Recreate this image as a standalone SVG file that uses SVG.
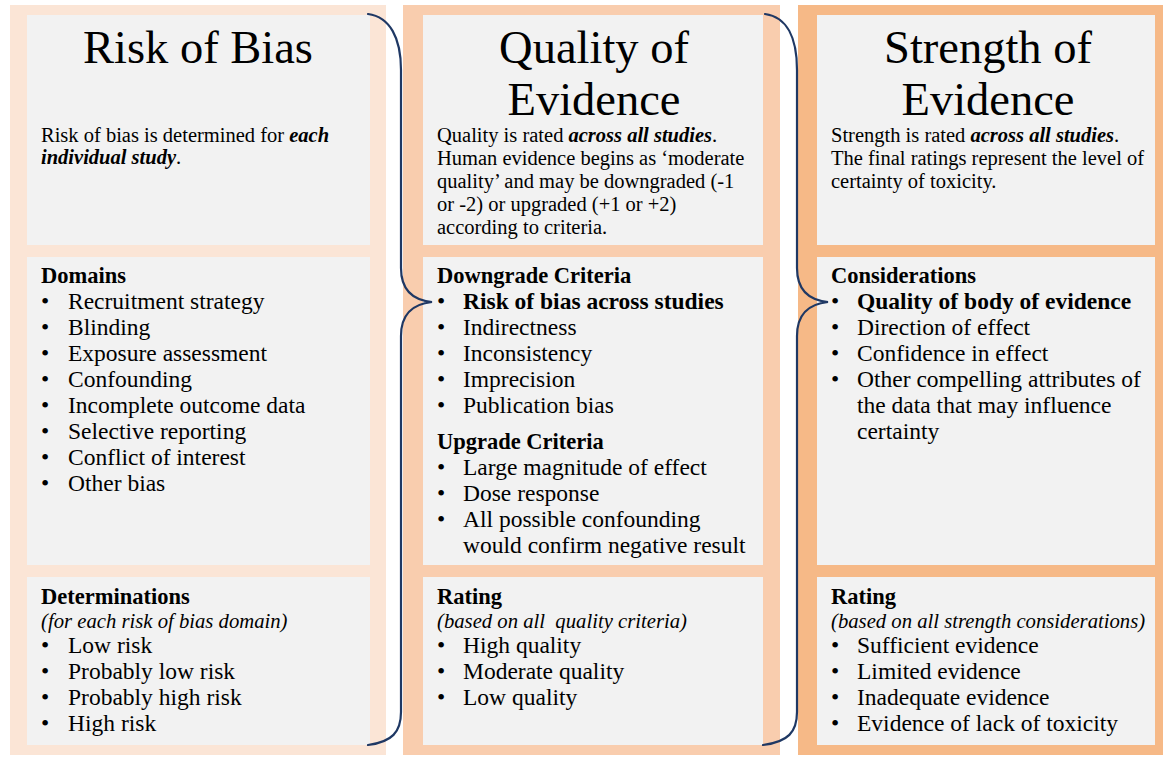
<svg xmlns="http://www.w3.org/2000/svg" width="1163" height="757" viewBox="0 0 1163 757">
  <style>
    text { font-family: "Liberation Serif", "Times New Roman", serif; fill: #000; }
    .title { font-size: 46.5px; text-anchor: middle; }
    .desc { font-size: 20.5px; }
    .head { font-size: 22.5px; font-weight: bold; }
    .sub { font-size: 20.7px; font-style: italic; white-space: pre; }
    .item { font-size: 23.5px; }
    .bi { font-weight: bold; font-style: italic; }
    .b { font-weight: bold; }
    .box { fill: #F2F2F2; }
    .brace { fill: none; stroke: #1F3864; stroke-width: 2.2; stroke-linecap: round; }
  </style>

  <rect width="1163" height="757" fill="#FFFFFF"/>

  <!-- Column 1: Risk of Bias -->
  <g id="risk-of-bias">
    <rect x="10" y="5" width="376" height="750" fill="#FBE5D6"/>
    <rect class="box" x="27" y="15" width="343" height="230"/>
    <rect class="box" x="27" y="257" width="343" height="308"/>
    <rect class="box" x="27" y="577" width="343" height="168"/>
    <text class="title" x="198" y="63">Risk of Bias</text>
    <text class="desc" x="41" y="142">Risk of bias is determined for <tspan class="bi">each</tspan></text>
    <text class="desc" x="41" y="164"><tspan class="bi">individual study</tspan>.</text>
    <text class="head" x="41" y="283">Domains</text>
    <g class="item">
      <text x="41" y="309">•</text><text x="68" y="309">Recruitment strategy</text>
      <text x="41" y="335">•</text><text x="68" y="335">Blinding</text>
      <text x="41" y="361">•</text><text x="68" y="361">Exposure assessment</text>
      <text x="41" y="387">•</text><text x="68" y="387">Confounding</text>
      <text x="41" y="413">•</text><text x="68" y="413">Incomplete outcome data</text>
      <text x="41" y="439">•</text><text x="68" y="439">Selective reporting</text>
      <text x="41" y="465">•</text><text x="68" y="465">Conflict of interest</text>
      <text x="41" y="491">•</text><text x="68" y="491">Other bias</text>
    </g>
    <text class="head" x="41" y="604">Determinations</text>
    <text class="sub" x="41" y="628">(for each risk of bias domain)</text>
    <g class="item">
      <text x="41" y="653">•</text><text x="68" y="653">Low risk</text>
      <text x="41" y="679">•</text><text x="68" y="679">Probably low risk</text>
      <text x="41" y="705">•</text><text x="68" y="705">Probably high risk</text>
      <text x="41" y="731">•</text><text x="68" y="731">High risk</text>
    </g>
  </g>

  <!-- Column 2: Quality of Evidence -->
  <g id="quality-of-evidence">
    <rect x="403" y="5" width="377" height="750" fill="#F9CDAE"/>
    <rect class="box" x="423" y="15" width="340" height="230"/>
    <rect class="box" x="423" y="257" width="340" height="308"/>
    <rect class="box" x="423" y="577" width="340" height="168"/>
    <text class="title" x="594" y="63">Quality of</text>
    <text class="title" x="594" y="115">Evidence</text>
    <text class="desc" x="437" y="142">Quality is rated <tspan class="bi">across all studies</tspan>.</text>
    <text class="desc" x="437" y="165">Human evidence begins as ‘moderate</text>
    <text class="desc" x="437" y="188">quality’ and may be downgraded (-1</text>
    <text class="desc" x="437" y="211">or -2) or upgraded (+1 or +2)</text>
    <text class="desc" x="437" y="234">according to criteria.</text>
    <text class="head" x="437" y="283">Downgrade Criteria</text>
    <g class="item">
      <text x="437" y="309">•</text><text class="b" x="463" y="309">Risk of bias across studies</text>
      <text x="437" y="335">•</text><text x="463" y="335">Indirectness</text>
      <text x="437" y="361">•</text><text x="463" y="361">Inconsistency</text>
      <text x="437" y="387">•</text><text x="463" y="387">Imprecision</text>
      <text x="437" y="413">•</text><text x="463" y="413">Publication bias</text>
    </g>
    <text class="head" x="437" y="449">Upgrade Criteria</text>
    <g class="item">
      <text x="437" y="475">•</text><text x="463" y="475">Large magnitude of effect</text>
      <text x="437" y="501">•</text><text x="463" y="501">Dose response</text>
      <text x="437" y="527">•</text><text x="463" y="527">All possible confounding</text>
      <text x="463" y="553">would confirm negative result</text>
    </g>
    <text class="head" x="437" y="604">Rating</text>
    <text class="sub" x="437" y="628">(based on all  quality criteria)</text>
    <g class="item">
      <text x="437" y="653">•</text><text x="463" y="653">High quality</text>
      <text x="437" y="679">•</text><text x="463" y="679">Moderate quality</text>
      <text x="437" y="705">•</text><text x="463" y="705">Low quality</text>
    </g>
  </g>

  <!-- Column 3: Strength of Evidence -->
  <g id="strength-of-evidence">
    <rect x="798" y="5" width="365" height="750" fill="#F6B987"/>
    <rect class="box" x="817" y="15" width="338" height="230"/>
    <rect class="box" x="817" y="257" width="338" height="308"/>
    <rect class="box" x="817" y="577" width="338" height="168"/>
    <text class="title" x="988" y="63">Strength of</text>
    <text class="title" x="988" y="115">Evidence</text>
    <text class="desc" x="831" y="142">Strength is rated <tspan class="bi">across all studies</tspan>.</text>
    <text class="desc" x="831" y="165">The final ratings represent the level of</text>
    <text class="desc" x="831" y="188">certainty of toxicity.</text>
    <text class="head" x="831" y="283">Considerations</text>
    <g class="item">
      <text x="831" y="309">•</text><text class="b" x="857" y="309">Quality of body of evidence</text>
      <text x="831" y="335">•</text><text x="857" y="335">Direction of effect</text>
      <text x="831" y="361">•</text><text x="857" y="361">Confidence in effect</text>
      <text x="831" y="387">•</text><text x="857" y="387">Other compelling attributes of</text>
      <text x="857" y="413">the data that may influence</text>
      <text x="857" y="439">certainty</text>
    </g>
    <text class="head" x="831" y="604">Rating</text>
    <text class="sub" x="831" y="628">(based on all strength considerations)</text>
    <g class="item">
      <text x="831" y="653">•</text><text x="857" y="653">Sufficient evidence</text>
      <text x="831" y="679">•</text><text x="857" y="679">Limited evidence</text>
      <text x="831" y="705">•</text><text x="857" y="705">Inadequate evidence</text>
      <text x="831" y="731">•</text><text x="857" y="731">Evidence of lack of toxicity</text>
    </g>
  </g>

  <!-- Curly braces linking each stage to the next -->
  <g id="connectors">
    <path class="brace" d="M368,14 C390,17 401,38 401,70 L401,268 C401,290 412,300 432,302 C412,304 401,314 401,336 L401,712 C401,732 392,742 368,745"/>
    <path class="brace" d="M765,14 C787,17 797,38 797,70 L797,268 C797,290 808,300 828,302 C808,304 797,314 797,336 L797,712 C797,732 788,742 763,745"/>
  </g>
</svg>
